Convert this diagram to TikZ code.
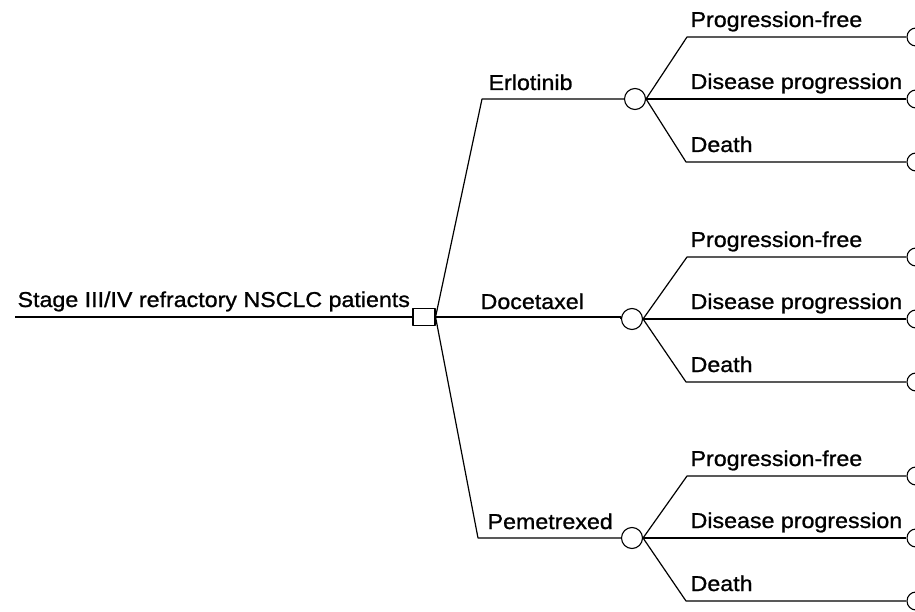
\documentclass[tikz,border=0pt]{standalone}
\usepackage{fontspec}
\setmainfont[FakeStretch=1.08, FakeBold=1]{Liberation Sans}
\begin{document}
\begin{tikzpicture}[x=1pt,y=-1pt,
  line width=1.2pt, line join=round,
  every node/.style={font=\fontsize{21.5}{24}\selectfont, inner sep=0pt},
  lbl/.style={anchor=base west},
  decision/.style={draw, rectangle, minimum width=22pt, minimum height=17pt, line width=1.1pt},
  chance/.style={draw, circle, minimum size=21pt, line width=1.1pt},
  endpt/.style={draw, circle, minimum size=18pt, line width=1.1pt}]
\useasboundingbox (0,0) rectangle (915,612);
\clip (0,0) rectangle (915,612);

% root and decision node
\coordinate (start) at (15,317);
\node[decision] (dec) at (424,317) {};
\node[lbl] (rootlbl) at (17,307) {Stage III/IV refractory NSCLC patients};
\draw (start) -- (dec.west);

% treatment arms
\coordinate (kA) at (482,99);
\coordinate (kC) at (478,538);
\node[chance] (cA) at (635,99) {};
\node[chance] (cB) at (632,319) {};
\node[chance] (cC) at (632,538) {};
\draw (dec.east) -- (kA) -- (cA.west);
\draw (dec.east) -- (dec.east -| cB.west) -- (cB.west);
\draw (dec.east) -- (kC) -- (cC.west);
\node[lbl] at (488,90) {Erlotinib};
\node[lbl] at (480,309) {Docetaxel};
\node[lbl] at (487,529) {Pemetrexed};

% outcome branches of each chance node
\foreach \c/\y/\g in {cA/99/A, cB/319/B, cC/538/C}{
  \coordinate (t\g) at (687,\y-62);
  \coordinate (b\g) at (686,\y+63);
  \node[endpt] (e1\g) at (916,\y-62) {};
  \node[endpt] (e2\g) at (916,\y) {};
  \node[endpt] (e3\g) at (916,\y+63) {};
  \draw (\c.east) -- (t\g) -- (e1\g.west);
  \draw (\c.east) -- (e2\g.west);
  \draw (\c.east) -- (b\g) -- (e3\g.west);
  \node[lbl] at (690,\y-72) {Progression-free};
  \node[lbl] at (690,\y-10) {Disease progression};
  \node[lbl] at (690,\y+53) {Death};
}
\end{tikzpicture}
\end{document}
